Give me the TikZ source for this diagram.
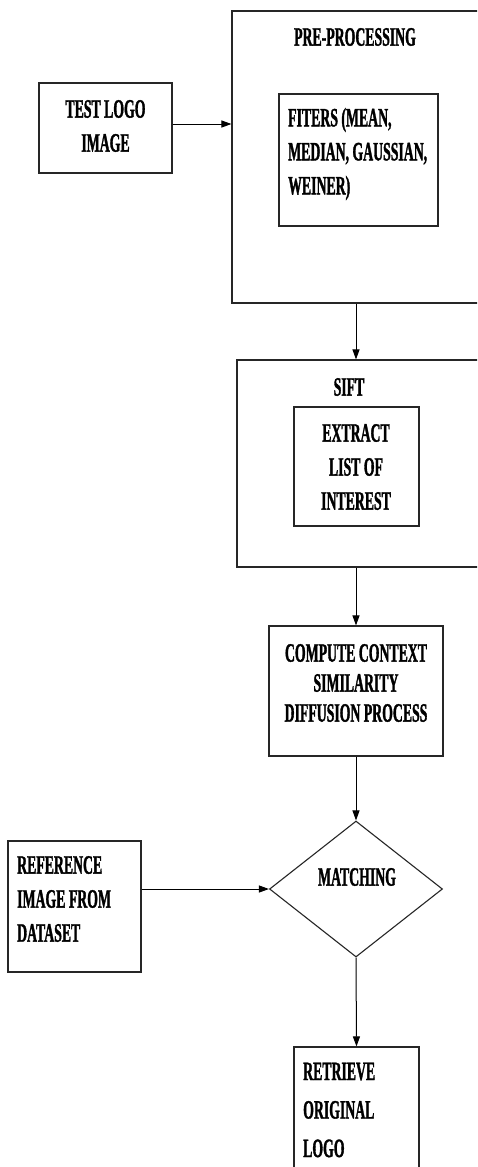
\documentclass[tikz,border=0pt]{standalone}
\usepackage{fontspec}
\setmainfont{Liberation Serif}[FakeStretch=0.52, BoldFeatures={FakeBold=1.2}]
\usetikzlibrary{shapes.geometric,arrows.meta}
\tikzset{
  box/.style={draw=black!85, line width=1.1pt, rectangle, inner sep=0pt},
  lbl/.style={font=\fontsize{26.5}{34}\selectfont\bfseries, inner sep=0pt, text=black},
  arr/.style={line width=1pt, -{Triangle[length=10pt,width=7pt]}}
}
\begin{document}
\begin{tikzpicture}[x=1pt,y=-1pt]
\clip (0,0) rectangle (477,1167);
\fill[white] (0,0) rectangle (477,1167);
% boxes
\node[box, minimum width=133pt, minimum height=90pt] (test) at (105.5,128) {};
\node[box, minimum width=258pt, minimum height=292pt] (pre) at (361,157) {};
\node[box, minimum width=159pt, minimum height=132pt] (filt) at (358.5,160) {};
\node[box, minimum width=253pt, minimum height=207pt] (sift) at (363.5,463.5) {};
\node[box, minimum width=125pt, minimum height=119pt] (ext) at (356.5,466.5) {};
\node[box, minimum width=174pt, minimum height=130pt] (comp) at (356,691) {};
\node[draw=black!85, line width=1.1pt, diamond, inner sep=0pt, minimum width=173pt, minimum height=136pt] (dia) at (356,889) {};
\node[box, minimum width=133pt, minimum height=131pt] (ref) at (74.5,906.5) {};
\node[box, minimum width=125pt, minimum height=143pt] (ret) at (356.5,1118.5) {};
% texts
\node[lbl, align=center] (testt) at (105.5,126) {TEST LOGO\\IMAGE};
\node[lbl] (pret) at (355,37) {PRE-PROCESSING};
\node[lbl, align=left, anchor=west] (filtt) at (288,154) {FITERS (MEAN,\\MEDIAN, GAUSSIAN,\\WEINER)};
\node[lbl] (siftt) at (349,387) {SIFT};
\node[lbl, align=center] (extt) at (356,467) {EXTRACT\\LIST OF\\INTEREST};
\node[lbl, align=center, font=\fontsize{26.5}{30}\selectfont\bfseries] (compt) at (356,683) {COMPUTE CONTEXT\\SIMILARITY\\DIFFUSION PROCESS};
\node[lbl] (diat) at (357,877) {MATCHING};
\node[lbl, align=left, anchor=west] (reft) at (17,899) {REFERENCE\\IMAGE FROM\\DATASET};
\node[lbl, align=left, anchor=west, font=\fontsize{26.5}{38.5}\selectfont\bfseries] (rett) at (303,1110) {RETRIEVE\\ORIGINAL\\LOGO};
% connectors
\draw[arr] ([yshift=4pt]test.east) -- ([yshift=4pt]test.east -| pre.west);
\draw[arr] (comp.north |- pre.south) -- (comp.north |- sift.north);
\draw[arr] (comp.north |- sift.south) -- (comp.north);
\draw[arr] (comp.south) -- (dia.north);
\draw[arr] (dia.west -| ref.east) -- (dia.west);
\draw[arr] (dia.south) -- (ret.north);
\end{tikzpicture}
\end{document}
